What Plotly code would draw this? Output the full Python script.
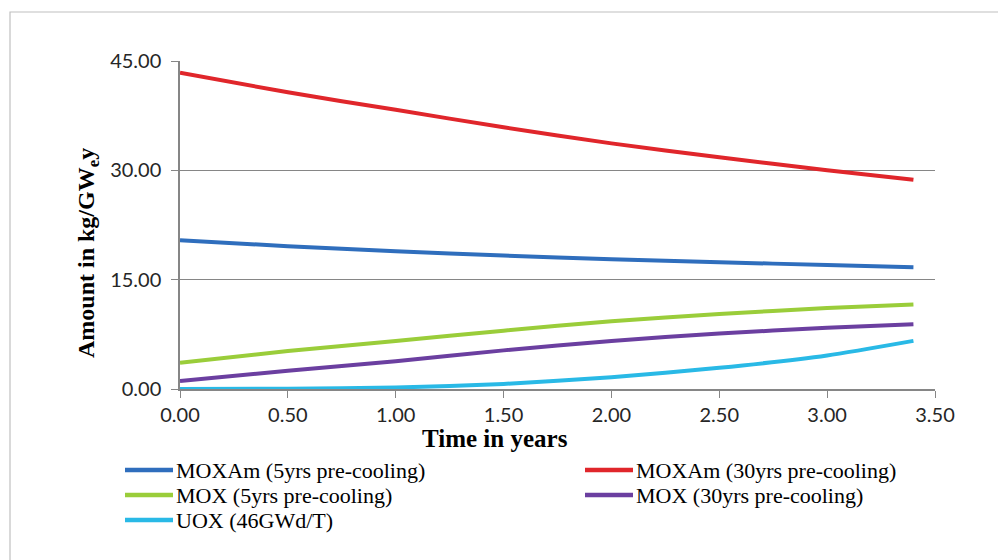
import plotly.graph_objects as go

# Time axis (years) and isotope amounts (kg/GWe·y) for each fuel scenario
years = [0.0, 0.5, 1.0, 1.5, 2.0, 2.5, 3.0, 3.4]
moxam_5 = [20.4, 19.6, 18.9, 18.3, 17.8, 17.4, 17.0, 16.7]
moxam_30 = [43.4, 40.7, 38.3, 35.9, 33.7, 31.8, 30.0, 28.7]
mox_5 = [3.6, 5.2, 6.6, 8.0, 9.3, 10.3, 11.1, 11.6]
mox_30 = [1.1, 2.5, 3.8, 5.3, 6.6, 7.6, 8.4, 8.9]
uox = [0.0, 0.05, 0.2, 0.7, 1.6, 2.9, 4.6, 6.6]

series_names = [
    "MOXAm (5yrs pre-cooling)",
    "MOXAm (30yrs pre-cooling)",
    "MOX (5yrs pre-cooling)",
    "MOX (30yrs pre-cooling)",
    "UOX (46GWd/T)",
]
series_values = [moxam_5, moxam_30, mox_5, mox_30, uox]
series_colors = ["#2f6ebd", "#e0262b", "#9acd3a", "#6b3fa0", "#29b9e6"]

x_ticks = [0.0, 0.5, 1.0, 1.5, 2.0, 2.5, 3.0, 3.5]
y_ticks = [0.0, 15.0, 30.0, 45.0]

W, H = 998, 560
L, R, T, B = 180, 63, 61, 171
pw, ph = W - L - R, H - T - B


def px_x(px):
    """Horizontal pixel -> paper coordinate."""
    return (px - L) / pw


def px_y(py):
    """Vertical pixel (from top) -> paper coordinate."""
    return (H - B - py) / ph


SERIF = "'Liberation Serif', 'Times New Roman', serif"

fig = go.Figure()
for name, vals, col in zip(series_names, series_values, series_colors):
    fig.add_trace(go.Scatter(
        x=years, y=vals, name=name, mode="lines", showlegend=False,
        line=dict(color=col, width=4, shape="spline", smoothing=0.6),
    ))

tick_font = dict(family="Lato, 'Open Sans', sans-serif", size=20, color="#262626")

# Two-column legend below the plot: line swatch + label for each series
shapes = []
annotations = []
col_x = [125, 585]
row_y = [470, 495, 520]
for i, (name, col) in enumerate(zip(series_names, series_colors)):
    cx = col_x[i % 2]
    cy = row_y[i // 2]
    shapes.append(dict(
        type="line", xref="paper", yref="paper",
        x0=px_x(cx), x1=px_x(cx + 48), y0=px_y(cy), y1=px_y(cy),
        line=dict(color=col, width=4.5),
    ))
    annotations.append(dict(
        text=name, xref="paper", yref="paper",
        x=px_x(cx + 49), y=px_y(cy), xanchor="left", yanchor="middle",
        showarrow=False, font=dict(family=SERIF, size=22, color="#000"),
    ))

annotations += [
    dict(
        text="<b>Time in years</b>", xref="paper", yref="paper",
        x=px_x(495), y=px_y(438),
        xanchor="center", yanchor="middle", showarrow=False,
        font=dict(family=SERIF, size=25, color="#000"),
    ),
    dict(
        text="<b>Amount in kg/GW<sub>e</sub>y</b>", xref="paper", yref="paper",
        x=px_x(88), y=px_y(253), textangle=-90,
        xanchor="center", yanchor="middle", showarrow=False,
        font=dict(family=SERIF, size=24, color="#000"),
    ),
]

# Light frame around the whole chart
shapes.append(dict(
    type="rect", xref="paper", yref="paper",
    x0=px_x(10), x1=px_x(1010), y0=px_y(575), y1=px_y(12),
    line=dict(color="#c0c0c0", width=1.2), fillcolor="rgba(0,0,0,0)",
    layer="below",
))

fig.update_layout(
    width=W, height=H,
    margin=dict(l=L, r=R, t=T, b=B, autoexpand=False),
    paper_bgcolor="white", plot_bgcolor="white",
    xaxis=dict(
        range=[0, 3.5], tickvals=x_ticks, tickformat=".2f",
        showgrid=False, zeroline=False,
        showline=True, linecolor="#868686", linewidth=1.5,
        ticks="outside", ticklen=7, tickcolor="#868686",
        tickfont=tick_font,
    ),
    yaxis=dict(
        range=[0, 45], tickvals=y_ticks, tickformat=".2f",
        showgrid=True, gridcolor="#868686", gridwidth=1.2, zeroline=False,
        showline=True, linecolor="#868686", linewidth=1.5,
        ticks="outside", ticklen=7, tickcolor="#868686",
        tickfont=tick_font, ticklabelstandoff=6,
    ),
    showlegend=False,
    annotations=annotations,
    shapes=shapes,
)

fig.write_html("out.html")
